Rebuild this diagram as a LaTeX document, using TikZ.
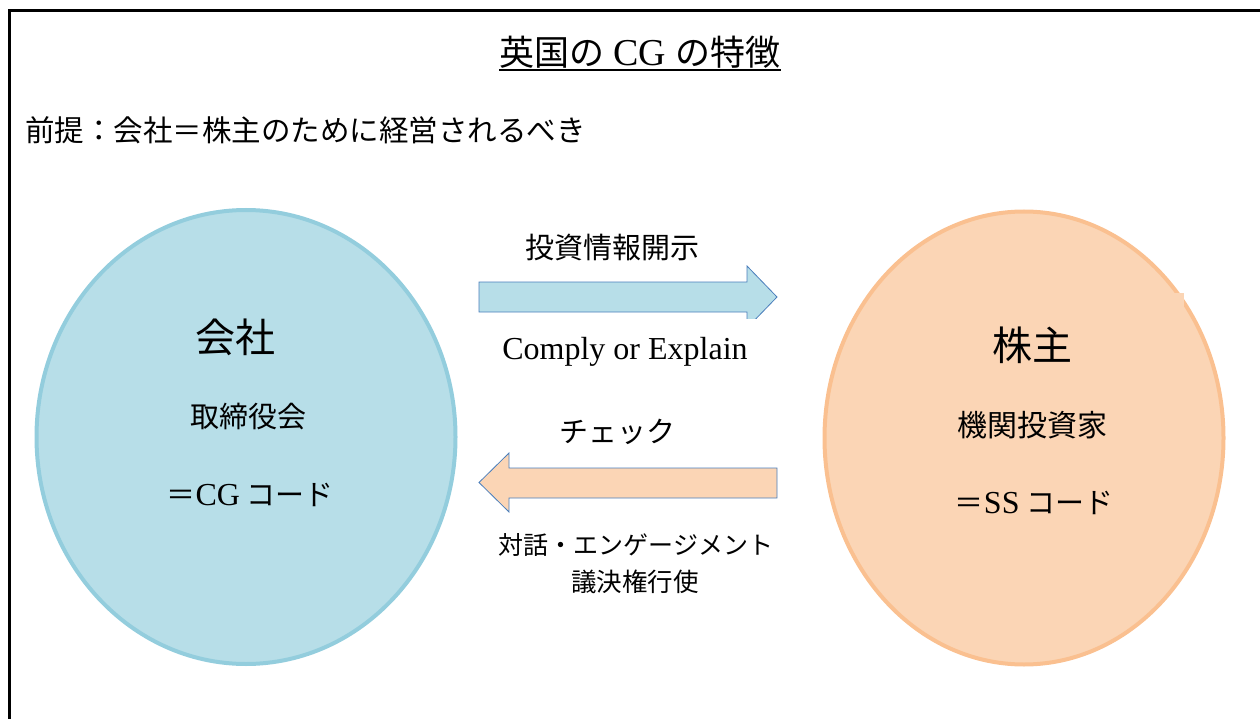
\documentclass[tikz,border=0pt]{standalone}
\usepackage{fontspec}
\setmainfont{Liberation Serif}
\newfontfamily\jp{Noto Sans CJK JP}
\usetikzlibrary{shapes.geometric}
\definecolor{blueFill}{HTML}{B7DEE8}
\definecolor{blueLine}{HTML}{93CDDD}
\definecolor{orangeFill}{HTML}{FBD5B5}
\definecolor{orangeLine}{HTML}{FAC090}
\definecolor{arrowLine}{HTML}{4A7EBB}
\begin{document}
\begin{tikzpicture}[x=1pt,y=-1pt,
  every node/.style={inner sep=0pt, outer sep=0pt, text=black},
  jtxt/.style={font=\fontsize{#1}{#1}\selectfont\jp},
  oval/.style={ellipse, line width=4pt},
  blockarrow/.style={line width=0.8pt, draw=arrowLine}]
\useasboundingbox (0,0) rectangle (1260,719);
\begin{scope}
\clip (0,0) rectangle (1260,719);
% frame
\draw[line width=3pt] (1270,11) -- (9.5,11) -- (9.5,730);

% title and premise
\node[jtxt=35] (title) at (640,52) {英国の{\rmfamily\fontsize{38}{38}\selectfont\ CG }の特徴};
\draw[line width=1.5pt] (499,70) -- (781,70);
\node[jtxt=29.5, anchor=west] (premise) at (25,130) {前提：会社＝株主のために経営されるべき};

% ellipses
\node[oval, fill=blueFill, draw=blueLine, minimum width=419, minimum height=454] (kaisha) at (246,437) {};
\node[oval, fill=orangeFill, draw=orangeLine, minimum width=399, minimum height=453] (kabu) at (1024,438) {};
\fill[orangeFill] (1173,293) rectangle (1184,310);

\node[jtxt=40] (kaishaT) at (235,337) {会社};
\node[jtxt=29] (torishimari) at (248,417) {取締役会};
\node[jtxt=29] (cgcode) at (250,495) {＝{\rmfamily\fontsize{32}{32}\selectfont CG} コード};

\node[jtxt=40] (kabuT) at (1032,345) {株主};
\node[jtxt=30] (kikan) at (1032,425) {機関投資家};
\node[jtxt=29] (sscode) at (1034,503) {＝{\rmfamily\fontsize{32}{32}\selectfont SS} コード};

% upper arrow
\filldraw[blockarrow, fill=blueFill] (479,282) -- (747,282) -- (747,266) -- (777,297) -- (747,328) -- (747,312) -- (479,312) -- cycle;
\node[jtxt=29] (toushi) at (612,248) {投資情報開示};
\node[fill=white, minimum width=300, minimum height=66, font=\fontsize{32}{32}\selectfont] (comply) at (625,352) {Comply or Explain};

% lower arrow
\filldraw[blockarrow, fill=orangeFill] (777,468) -- (509,468) -- (509,453) -- (479,482.5) -- (509,512) -- (509,498) -- (777,498) -- cycle;
\node[jtxt=29] (check) at (617,432) {チェック};
\node[jtxt=25] (taiwa) at (636,545) {対話・エンゲージメント};
\node[jtxt=25.5] (giketsu) at (635,582) {議決権行使};
\end{scope}
\end{tikzpicture}
\end{document}
